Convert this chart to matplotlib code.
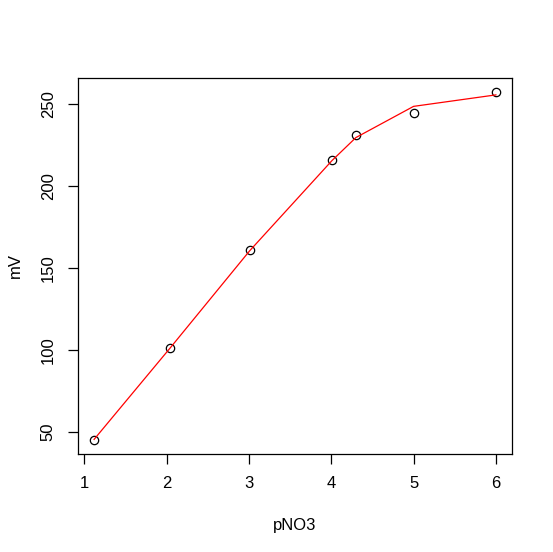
import matplotlib
matplotlib.use("Agg")
import matplotlib.pyplot as plt

plt.rcParams['font.family'] = ['Liberation Sans', 'DejaVu Sans']

pno3 = [1.12, 2.04, 3.01, 4.01, 4.30, 5.00, 6.00]
mv = [45.1, 101.2, 161.0, 215.9, 231.1, 244.5, 257.3]
fit_mv = [45.5, 101.0, 160.5, 215.5, 229.5, 248.5, 255.5]
xticks = [1, 2, 3, 4, 5, 6]
yticks = [50, 100, 150, 200, 250]

fig = plt.figure(figsize=(5.53, 5.52), dpi=100)
ax = fig.add_axes([78/553, 1-454/552, (512-78)/553, (454-78)/552])
ax.plot(pno3, mv, linestyle='none', marker='o', markersize=6,
        markerfacecolor='none', markeredgecolor='black', markeredgewidth=0.9)
ax.plot(pno3, fit_mv, color='red', linewidth=0.9)

xr = max(pno3) - min(pno3)
yr = max(mv) - min(mv)
ax.set_xlim(min(pno3) - 0.04*xr, max(pno3) + 0.04*xr)
ax.set_ylim(min(mv) - 0.04*yr, max(mv) + 0.04*yr)
ax.set_xticks(xticks)
ax.set_yticks(yticks)
ax.set_yticklabels([str(v) for v in yticks], rotation=90, va='center')
ax.tick_params(direction='out', length=7, width=0.9, labelsize=12, pad=9)
for s in ax.spines.values():
    s.set_linewidth(0.9)
ax.set_xlabel('pNO3', fontsize=12, labelpad=19)
ax.set_ylabel('mV', fontsize=12, labelpad=13)
fig.savefig('out.png', dpi=100)
